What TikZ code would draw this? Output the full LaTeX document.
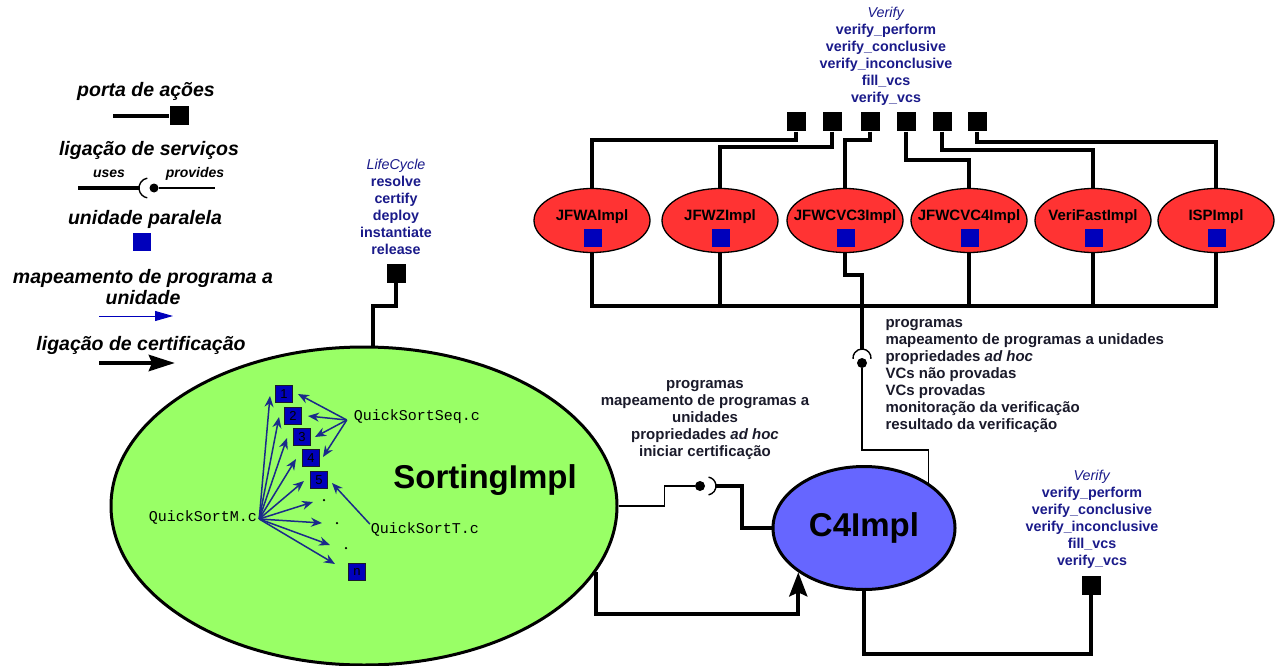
\documentclass[tikz,border=0pt]{standalone}
\usepackage{fontspec}
\setmainfont{Liberation Sans}
\setmonofont{Liberation Mono}
\usetikzlibrary{shapes.geometric,arrows.meta,calc}
\definecolor{sgreen}{HTML}{99FF66}
\definecolor{cblue}{HTML}{6666FF}
\definecolor{ired}{HTML}{FF3333}
\definecolor{ublue}{HTML}{0000BB}
\definecolor{tblue}{HTML}{1A1A8A}
\definecolor{tdark}{HTML}{1A1A2A}
\definecolor{anavy}{HTML}{1A2A8A}
\begin{document}
\begin{tikzpicture}[x=1pt,y=-1pt,
 thickline/.style={line width=4pt},
 thinline/.style={line width=1.4pt},
 portsq/.style={fill=black,minimum size=19pt,inner sep=0pt},
 unitsq/.style={fill=ublue,minimum size=18pt,inner sep=0pt},
 numsq/.style={fill=ublue,draw=tdark,line width=0.6pt,minimum size=17pt,inner sep=0pt,font=\fontsize{13}{13}\selectfont,text=black},
 legtext/.style={font=\fontsize{19.5}{21}\selectfont\bfseries\itshape,text=black,align=center},
 smalllegtext/.style={font=\fontsize{14}{14}\selectfont\bfseries\itshape,text=black},
 redell/.style={ellipse,fill=ired,draw=black,line width=1.3pt,minimum width=116pt,minimum height=64pt,inner sep=0pt},
 redlab/.style={font=\fontsize{15}{15}\selectfont\bfseries,inner sep=0pt},
 bluetext/.style={align=center,text=tblue,font=\fontsize{14.3}{17}\selectfont\bfseries},
 darktext/.style={text=tdark,font=\fontsize{15}{17}\selectfont\bfseries},
 monotext/.style={font=\fontsize{15}{15}\selectfont\ttfamily,inner sep=0pt},
 maparrow/.style={draw=anavy,line width=1.5pt,-{Stealth[length=11pt,width=9pt]}},
 dotnode/.style={circle,fill=black,minimum size=10pt,inner sep=0pt},
 smalldot/.style={circle,fill=black,minimum size=2.5pt,inner sep=0pt},
]
\useasboundingbox (0,0) rectangle (1282,666);

% ---------------- legend ----------------
\node[legtext] (lgport) at (146,91) {porta de ações};
\node[portsq] (lport) at (179,116) {};
\coordinate (lportL) at (113,116);
\draw[thickline] (lportL) -- (lport);

\node[legtext] (lgserv) at (149,150) {ligação de serviços};
\node[smalllegtext] (luses) at (109,174) {uses};
\node[smalllegtext] (lprov) at (195,174) {provides};
\coordinate (lsA) at (78,188);
\coordinate (lsArc) at (139,188);
\node[dotnode,minimum size=9pt] (lsdot) at (154,188) {};
\coordinate (lsB) at (215,188);
\draw[thickline] (lsA) -- (lsArc);
\draw[thinline] ($(lsdot)+(-6.74,-9.85)$) arc[start angle=100,end angle=260,radius=10pt];
\draw[thinline] (lsdot) -- (lsB);

\node[legtext] (lgunit) at (145,219) {unidade paralela};
\node[unitsq] (lunit) at (142,242) {};

\node[legtext] (lgmap) at (143,287) {mapeamento de programa a\\unidade};
\coordinate (lmA) at (99,316);
\coordinate (lmB) at (173,316);
\draw[draw=ublue,line width=1pt,-{Triangle[length=18pt,width=10pt]}] (lmA) -- (lmB);

\node[legtext] (lgcert) at (141,345) {ligação de certificação};
\coordinate (lcA) at (99,363);
\coordinate (lcB) at (175,363);
\draw[line width=4.5pt,-{Stealth[length=26pt,width=16pt,inset=3pt]}] (lcA) -- (lcB);

% ---------------- SortingImpl ----------------
\node[ellipse,fill=sgreen,draw=black,line width=3pt,minimum width=506pt,minimum height=318pt,inner sep=0pt] (sorting) at (364,506) {};
\node[font=\fontsize{33}{33}\selectfont\bfseries] (sortlab) at (485,480) {SortingImpl};

\node[bluetext] (lctext) at (396,207) {\textit{\mdseries LifeCycle}\\resolve\\certify\\deploy\\instantiate\\release};
\node[portsq] (lcport) at (396,273) {};
\draw[thickline] (lcport.south) -- ++(0,23) -| ($(sorting.north)+(9,0)$);

\node[numsq] (u1) at (284,394) {1};
\node[numsq] (u2) at (293,416) {2};
\node[numsq] (u3) at (302,437) {3};
\node[numsq] (u4) at (311,458) {4};
\node[numsq] (u5) at (319,480) {5};
\node[numsq] (un) at (357,572) {n};
\node[smalldot] (d1) at (324,500) {};
\node[smalldot] (d2) at (337,523) {};
\node[smalldot] (d3) at (346,548) {};

\node[monotext] (qs) at (417,417) {QuickSortSeq.c};
\node[monotext] (qm) at (203,517) {QuickSortM.c};
\node[monotext] (qt) at (425,529) {QuickSortT.c};
\coordinate (qmS) at ($(qm.east)+(2,2)$);
\coordinate (qsS) at ($(qs.west)+(-7,3)$);
\coordinate (qtS) at ($(qt.west)+(-1,-5)$);

\draw[maparrow] (qmS) -- ($(u1)+(-14,2)$);
\draw[maparrow] (qmS) -- ($(u2)+(-14,1)$);
\draw[maparrow] (qmS) -- ($(u3)+(-15,1)$);
\draw[maparrow] (qmS) -- ($(u4)+(-15,1)$);
\draw[maparrow] (qmS) -- ($(u5)+(-15,1)$);
\draw[maparrow] (qmS) -- ($(d1)+(-11,2)$);
\draw[maparrow] (qmS) -- ($(d2)+(-15,0)$);
\draw[maparrow] (qmS) -- ($(d3)+(-16,-3)$);
\draw[maparrow] (qmS) -- ($(un)+(-22,-8)$);
\draw[maparrow] (qsS) -- ($(u1)+(14,0)$);
\draw[maparrow] (qsS) -- ($(u2)+(15,0)$);
\draw[maparrow] (qsS) -- ($(u3)+(13,0)$);
\draw[maparrow] (qsS) -- ($(u4)+(12,-1)$);
\draw[maparrow] (qtS) -- ($(u5)+(13,3)$);

% ---------------- C4Impl ----------------
\node[ellipse,fill=cblue,draw=black,line width=3pt,minimum width=182pt,minimum height=123pt,inner sep=0pt,font=\fontsize{33}{33}\selectfont\bfseries] (c4) at (864,528) {C4Impl};

\node[darktext,align=center] (midtext) at (705,420) {programas\\mapeamento de programas a\\unidades\\propriedades \textit{ad hoc}\\iniciar certificação};

\node[dotnode] (dM) at (700,486) {};
\draw[thinline] (sorting.east) -- ++(46,0) |- (dM);
\draw[thinline] ($(dM)+(8.56,8.86)$) arc[start angle=-80,end angle=80,radius=9pt];
\coordinate (arcM) at ($(dM)+(16,0)$);
\draw[thickline] (arcM) -- ++(26,0) |- (c4.west);

\draw[thickline,-{Stealth[length=24pt,width=18pt,inset=4pt]}] (sorting.-16) -- ++(0,42) -| (c4.214);

% bottom Verify
\node[bluetext] (vbot) at (1092,519) {\textit{\mdseries Verify}\\verify\_perform\\verify\_conclusive\\verify\_inconclusive\\fill\_vcs\\verify\_vcs};
\node[portsq] (vport) at (1091,585) {};
\draw[thickline] (c4.south) -- ++(0,62.5) -| (vport.south);

% ---------------- top row ----------------
\node[bluetext] (vtop) at (886,56) {\textit{\mdseries Verify}\\verify\_perform\\verify\_conclusive\\verify\_inconclusive\\fill\_vcs\\verify\_vcs};
\node[portsq] (p1) at (796,122) {};
\node[portsq] (p2) at (832,122) {};
\node[portsq] (p3) at (870,122) {};
\node[portsq] (p4) at (906,122) {};
\node[portsq] (p5) at (942,122) {};
\node[portsq] (p6) at (977,122) {};

\foreach \n/\t/\x in {1/JFWAImpl/592,2/JFWZImpl/720,3/JFWCVC3Impl/845,4/JFWCVC4Impl/969,5/VeriFastImpl/1093,6/ISPImpl/1216}{
  \node[redell] (r\n) at (\x,220.5) {};
  \node[redlab] (rl\n) at ($(r\n)+(0,-3.5)$) {\t};
  \node[unitsq] (rs\n) at ($(r\n)+(1,17.5)$) {};
}

\draw[thickline] (p1.south) -- ++(0,8.5) -| (r1.north);
\draw[thickline] (p2.south) -- ++(0,15.5) -| (r2.north);
\draw[thickline] (p3.south) -- ++(0,8.5) -| (r3.north);
\draw[thickline] (p4.south) -- ++(0,28.5) -| (r4.north);
\draw[thickline] (p5.south) -- ++(0,18.5) -| (r5.north);
\draw[thickline] (p6.south) -- ++(0,10.5) -| (r6.north);

\coordinate (bus) at (0,306);
\draw[thickline] (r1.south) |- (bus -| r6.south) -- (r6.south);
\draw[thickline] (r2.south) -- (bus -| r2.south);
\draw[thickline] (r4.south) -- (bus -| r4.south);
\draw[thickline] (r5.south) -- (bus -| r5.south);

\coordinate (arcRtop) at (862,349);
\node[dotnode] (dR) at (862,363) {};
\draw[thickline] (r3.south) -- ++(0,22) -| (arcRtop);
\draw[thinline] ($(dR)+(8.97,-4.22)$) arc[start angle=-5,end angle=185,radius=9pt];
\draw[thinline] (dR) -- ++(0,87) -| (c4.35);

\node[darktext,align=left,anchor=west] (righttext) at (882,376) {programas\\mapeamento de programas a unidades\\propriedades \textit{ad hoc}\\VCs não provadas\\VCs provadas\\monitoração da verificação\\resultado da verificação};

\end{tikzpicture}
\end{document}
